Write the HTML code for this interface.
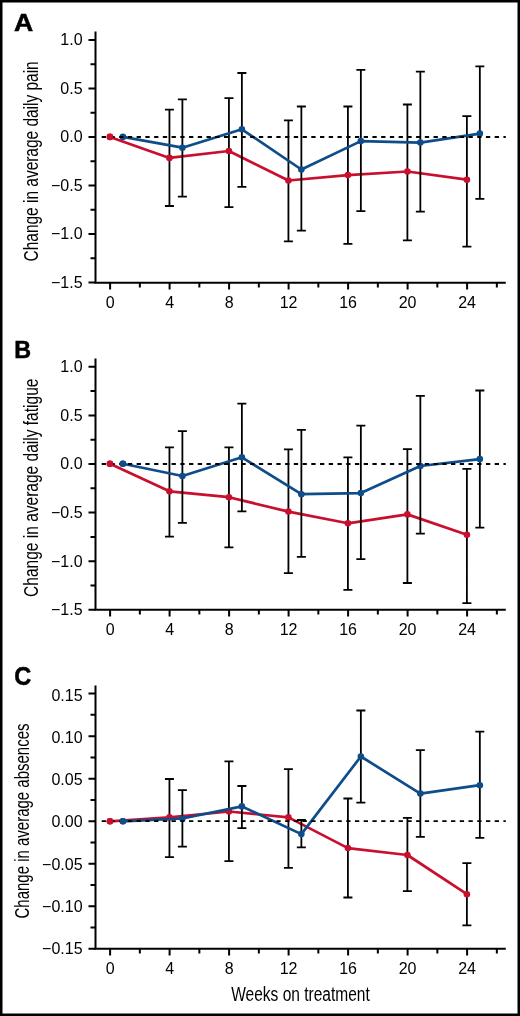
<!DOCTYPE html>
<html><head><meta charset="utf-8"><style>
html,body{margin:0;padding:0;background:#fff;}
svg{display:block;will-change:transform;}
text{font-family:"Liberation Sans",sans-serif;fill:#000;}
.lab{font-size:23.3px;font-weight:bold;stroke:#000;stroke-width:0.5px;}
.tk{font-size:16px;}
.yt{font-size:19.5px;}
.xt{font-size:19.5px;}
.ax{stroke:#000;stroke-width:2;fill:none;}
.eb{stroke:#000;stroke-width:1.8;fill:none;}
.dash{stroke:#000;stroke-width:1.8;stroke-dasharray:4.3 4.433;fill:none;}
</style></head><body>
<svg width="520" height="1016" viewBox="0 0 520 1016">
<rect x="1.25" y="1.25" width="517.5" height="1013.5" fill="#fff" stroke="#000" stroke-width="2.5"/>
<text transform="translate(13.9,31.1) scale(1.14,1)" class="lab">A</text>
<text class="yt" transform="translate(37.9,261.4) rotate(-90)" x="0" y="0" textLength="200.1" lengthAdjust="spacingAndGlyphs">Change in average daily pain</text>
<path d="M95.5 31.4V283.8M94.5 282.8H505.8" class="ax"/>
<text x="82.6" y="45.4" class="tk" text-anchor="end">1.0</text>
<text x="82.6" y="93.9" class="tk" text-anchor="end">0.5</text>
<text x="82.6" y="142.4" class="tk" text-anchor="end">0.0</text>
<text x="82.6" y="190.9" class="tk" text-anchor="end">−0.5</text>
<text x="82.6" y="239.4" class="tk" text-anchor="end">−1.0</text>
<text x="82.6" y="287.9" class="tk" text-anchor="end">−1.5</text>
<text x="110.1" y="308" class="tk" text-anchor="middle">0</text>
<text x="169.6" y="308" class="tk" text-anchor="middle">4</text>
<text x="229.1" y="308" class="tk" text-anchor="middle">8</text>
<text x="288.6" y="308" class="tk" text-anchor="middle">12</text>
<text x="348.1" y="308" class="tk" text-anchor="middle">16</text>
<text x="407.6" y="308" class="tk" text-anchor="middle">20</text>
<text x="467.1" y="308" class="tk" text-anchor="middle">24</text>
<path d="M88.5 40H95.5M88.5 88.5H95.5M88.5 137H95.5M88.5 185.5H95.5M88.5 234H95.5M88.5 282.5H95.5M90.5 64.25H95.5M90.5 112.75H95.5M90.5 161.25H95.5M90.5 209.75H95.5M90.5 258.25H95.5M110.1 282.8V289.5M139.85 282.8V287.5M169.6 282.8V289.5M199.35 282.8V287.5M229.1 282.8V289.5M258.85 282.8V287.5M288.6 282.8V289.5M318.35 282.8V287.5M348.1 282.8V289.5M377.85 282.8V287.5M407.6 282.8V289.5M437.35 282.8V287.5M467.1 282.8V289.5M496.85 282.8V287.5" class="ax"/>
<path d="M169.44 109.6V206M164.94 109.6H173.94M164.94 206H173.94M228.93 98.1V207.1M224.43 98.1H233.43M224.43 207.1H233.43M288.42 120.3V241.4M283.92 120.3H292.92M283.92 241.4H292.92M347.91 106.5V243.9M343.41 106.5H352.41M343.41 243.9H352.41M407.4 104.5V240.3M402.9 104.5H411.9M402.9 240.3H411.9M466.89 116.2V246.7M462.39 116.2H471.39M462.39 246.7H471.39" class="eb"/>
<polyline points="109.95,136.9 169.44,157.9 228.93,151 288.42,180.5 347.91,175.1 407.4,171.5 466.89,179.7" fill="none" stroke="#c8102e" stroke-width="2.7" stroke-linejoin="round"/>
<circle cx="109.95" cy="136.9" r="3.3" fill="#c8102e"/>
<circle cx="169.44" cy="157.9" r="3.3" fill="#c8102e"/>
<circle cx="228.93" cy="151" r="3.3" fill="#c8102e"/>
<circle cx="288.42" cy="180.5" r="3.3" fill="#c8102e"/>
<circle cx="347.91" cy="175.1" r="3.3" fill="#c8102e"/>
<circle cx="407.4" cy="171.5" r="3.3" fill="#c8102e"/>
<circle cx="466.89" cy="179.7" r="3.3" fill="#c8102e"/>
<path d="M182.39 99.3V196.6M177.89 99.3H186.89M177.89 196.6H186.89M241.88 73V186.9M237.38 73H246.38M237.38 186.9H246.38M301.37 106.5V230.6M296.87 106.5H305.87M296.87 230.6H305.87M360.86 69.9V211.2M356.36 69.9H365.36M356.36 211.2H365.36M420.35 71.7V211.7M415.85 71.7H424.85M415.85 211.7H424.85M479.84 66.3V198.9M475.34 66.3H484.34M475.34 198.9H484.34" class="eb"/>
<polyline points="122.9,136.9 182.39,147.7 241.88,129.3 301.37,169.5 360.86,141.1 420.35,142.6 479.84,133.6" fill="none" stroke="#0e4d8a" stroke-width="2.7" stroke-linejoin="round"/>
<circle cx="122.9" cy="136.9" r="3.3" fill="#0e4d8a"/>
<circle cx="182.39" cy="147.7" r="3.3" fill="#0e4d8a"/>
<circle cx="241.88" cy="129.3" r="3.3" fill="#0e4d8a"/>
<circle cx="301.37" cy="169.5" r="3.3" fill="#0e4d8a"/>
<circle cx="360.86" cy="141.1" r="3.3" fill="#0e4d8a"/>
<circle cx="420.35" cy="142.6" r="3.3" fill="#0e4d8a"/>
<circle cx="479.84" cy="133.6" r="3.3" fill="#0e4d8a"/>
<path d="M101.7 137H505.8" class="dash"/>
<circle cx="109.95" cy="136.9" r="3.3" fill="#c8102e"/>
<text x="14.3" y="357.9" class="lab">B</text>
<text class="yt" transform="translate(37.9,596.9) rotate(-90)" x="0" y="0" textLength="218.3" lengthAdjust="spacingAndGlyphs">Change in average daily fatigue</text>
<path d="M95.5 358.4V610.8M94.5 609.8H505.8" class="ax"/>
<text x="82.6" y="372.2" class="tk" text-anchor="end">1.0</text>
<text x="82.6" y="420.8" class="tk" text-anchor="end">0.5</text>
<text x="82.6" y="469.4" class="tk" text-anchor="end">0.0</text>
<text x="82.6" y="518" class="tk" text-anchor="end">−0.5</text>
<text x="82.6" y="566.6" class="tk" text-anchor="end">−1.0</text>
<text x="82.6" y="615.2" class="tk" text-anchor="end">−1.5</text>
<text x="110.1" y="635" class="tk" text-anchor="middle">0</text>
<text x="169.6" y="635" class="tk" text-anchor="middle">4</text>
<text x="229.1" y="635" class="tk" text-anchor="middle">8</text>
<text x="288.6" y="635" class="tk" text-anchor="middle">12</text>
<text x="348.1" y="635" class="tk" text-anchor="middle">16</text>
<text x="407.6" y="635" class="tk" text-anchor="middle">20</text>
<text x="467.1" y="635" class="tk" text-anchor="middle">24</text>
<path d="M88.5 366.8H95.5M88.5 415.4H95.5M88.5 464H95.5M88.5 512.6H95.5M88.5 561.2H95.5M88.5 609.8H95.5M90.5 391.1H95.5M90.5 439.7H95.5M90.5 488.3H95.5M90.5 536.9H95.5M90.5 585.5H95.5M110.1 609.8V616.5M139.85 609.8V614.5M169.6 609.8V616.5M199.35 609.8V614.5M229.1 609.8V616.5M258.85 609.8V614.5M288.6 609.8V616.5M318.35 609.8V614.5M348.1 609.8V616.5M377.85 609.8V614.5M407.6 609.8V616.5M437.35 609.8V614.5M467.1 609.8V616.5M496.85 609.8V614.5" class="ax"/>
<path d="M169.44 447.3V536.6M164.94 447.3H173.94M164.94 536.6H173.94M228.93 447.3V547.4M224.43 447.3H233.43M224.43 547.4H233.43M288.42 449.4V573.2M283.92 449.4H292.92M283.92 573.2H292.92M347.91 457.3V589.9M343.41 457.3H352.41M343.41 589.9H352.41M407.4 449.1V583M402.9 449.1H411.9M402.9 583H411.9M466.89 468.8V603.2M462.39 468.8H471.39M462.39 603.2H471.39" class="eb"/>
<polyline points="109.95,463.8 169.44,491.3 228.93,497.2 288.42,511.6 347.91,523.3 407.4,514.4 466.89,534.8" fill="none" stroke="#c8102e" stroke-width="2.7" stroke-linejoin="round"/>
<circle cx="109.95" cy="463.8" r="3.3" fill="#c8102e"/>
<circle cx="169.44" cy="491.3" r="3.3" fill="#c8102e"/>
<circle cx="228.93" cy="497.2" r="3.3" fill="#c8102e"/>
<circle cx="288.42" cy="511.6" r="3.3" fill="#c8102e"/>
<circle cx="347.91" cy="523.3" r="3.3" fill="#c8102e"/>
<circle cx="407.4" cy="514.4" r="3.3" fill="#c8102e"/>
<circle cx="466.89" cy="534.8" r="3.3" fill="#c8102e"/>
<path d="M182.39 431.2V522.8M177.89 431.2H186.89M177.89 522.8H186.89M241.88 403.6V511.3M237.38 403.6H246.38M237.38 511.3H246.38M301.37 429.9V556.8M296.87 429.9H305.87M296.87 556.8H305.87M360.86 425.6V559.2M356.36 425.6H365.36M356.36 559.2H365.36M420.35 395.9V533.6M415.85 395.9H424.85M415.85 533.6H424.85M479.84 390.5V527.7M475.34 390.5H484.34M475.34 527.7H484.34" class="eb"/>
<polyline points="122.9,463.8 182.39,476 241.88,457.3 301.37,494.2 360.86,493.1 420.35,466 479.84,459.1" fill="none" stroke="#0e4d8a" stroke-width="2.7" stroke-linejoin="round"/>
<circle cx="122.9" cy="463.8" r="3.3" fill="#0e4d8a"/>
<circle cx="182.39" cy="476" r="3.3" fill="#0e4d8a"/>
<circle cx="241.88" cy="457.3" r="3.3" fill="#0e4d8a"/>
<circle cx="301.37" cy="494.2" r="3.3" fill="#0e4d8a"/>
<circle cx="360.86" cy="493.1" r="3.3" fill="#0e4d8a"/>
<circle cx="420.35" cy="466" r="3.3" fill="#0e4d8a"/>
<circle cx="479.84" cy="459.1" r="3.3" fill="#0e4d8a"/>
<path d="M101.7 464H505.8" class="dash"/>
<circle cx="109.95" cy="463.8" r="3.3" fill="#c8102e"/>
<circle cx="122.9" cy="463.8" r="3.3" fill="#0e4d8a"/>
<text transform="translate(14.2,685) scale(0.92,1)" class="lab" style="font-size:25.6px">C</text>
<text class="yt" transform="translate(29,918.5) rotate(-90)" x="0" y="0" textLength="195" lengthAdjust="spacingAndGlyphs">Change in average absences</text>
<path d="M95.5 685.4V949.8M94.5 948.8H505.8" class="ax"/>
<text x="82.6" y="700.5" class="tk" text-anchor="end">0.15</text>
<text x="82.6" y="743.13" class="tk" text-anchor="end">0.10</text>
<text x="82.6" y="785.17" class="tk" text-anchor="end">0.05</text>
<text x="82.6" y="827.2" class="tk" text-anchor="end">0.00</text>
<text x="82.6" y="869.74" class="tk" text-anchor="end">−0.05</text>
<text x="82.6" y="911.87" class="tk" text-anchor="end">−0.10</text>
<text x="82.6" y="954.21" class="tk" text-anchor="end">−0.15</text>
<text x="110.1" y="974" class="tk" text-anchor="middle">0</text>
<text x="169.6" y="974" class="tk" text-anchor="middle">4</text>
<text x="229.1" y="974" class="tk" text-anchor="middle">8</text>
<text x="288.6" y="974" class="tk" text-anchor="middle">12</text>
<text x="348.1" y="974" class="tk" text-anchor="middle">16</text>
<text x="407.6" y="974" class="tk" text-anchor="middle">20</text>
<text x="467.1" y="974" class="tk" text-anchor="middle">24</text>
<path d="M88.5 693.6H95.5M88.5 736.13H95.5M88.5 778.67H95.5M88.5 821.2H95.5M88.5 863.74H95.5M88.5 906.27H95.5M88.5 948.81H95.5M90.5 714.86H95.5M90.5 757.4H95.5M90.5 799.93H95.5M90.5 842.47H95.5M90.5 885H95.5M90.5 927.54H95.5M110.1 948.8V955.5M139.85 948.8V953.5M169.6 948.8V955.5M199.35 948.8V953.5M229.1 948.8V955.5M258.85 948.8V953.5M288.6 948.8V955.5M318.35 948.8V953.5M348.1 948.8V955.5M377.85 948.8V953.5M407.6 948.8V955.5M437.35 948.8V953.5M467.1 948.8V955.5M496.85 948.8V953.5" class="ax"/>
<path d="M169.44 779V857.1M164.94 779H173.94M164.94 857.1H173.94M228.93 761.4V861.2M224.43 761.4H233.43M224.43 861.2H233.43M288.42 769.1V867.8M283.92 769.1H292.92M283.92 867.8H292.92M347.91 798.5V897.5M343.41 798.5H352.41M343.41 897.5H352.41M407.4 817.9V891.1M402.9 817.9H411.9M402.9 891.1H411.9M466.89 863.2V925.4M462.39 863.2H471.39M462.39 925.4H471.39" class="eb"/>
<polyline points="109.95,821.3 169.44,817.4 228.93,811.5 288.42,817.4 347.91,848.1 407.4,855 466.89,894.2" fill="none" stroke="#c8102e" stroke-width="2.7" stroke-linejoin="round"/>
<circle cx="109.95" cy="821.3" r="3.3" fill="#c8102e"/>
<circle cx="169.44" cy="817.4" r="3.3" fill="#c8102e"/>
<circle cx="228.93" cy="811.5" r="3.3" fill="#c8102e"/>
<circle cx="288.42" cy="817.4" r="3.3" fill="#c8102e"/>
<circle cx="347.91" cy="848.1" r="3.3" fill="#c8102e"/>
<circle cx="407.4" cy="855" r="3.3" fill="#c8102e"/>
<circle cx="466.89" cy="894.2" r="3.3" fill="#c8102e"/>
<path d="M182.39 790.1V846.6M177.89 790.1H186.89M177.89 846.6H186.89M241.88 786V828.2M237.38 786H246.38M237.38 828.2H246.38M301.37 820V847.4M296.87 820H305.87M296.87 847.4H305.87M360.86 710.5V802.6M356.36 710.5H365.36M356.36 802.6H365.36M420.35 750.1V836.9M415.85 750.1H424.85M415.85 836.9H424.85M479.84 731.7V837.9M475.34 731.7H484.34M475.34 837.9H484.34" class="eb"/>
<polyline points="122.9,821.3 182.39,818.5 241.88,806.4 301.37,834.1 360.86,756.5 420.35,793.6 479.84,785.2" fill="none" stroke="#0e4d8a" stroke-width="2.7" stroke-linejoin="round"/>
<circle cx="122.9" cy="821.3" r="3.3" fill="#0e4d8a"/>
<circle cx="182.39" cy="818.5" r="3.3" fill="#0e4d8a"/>
<circle cx="241.88" cy="806.4" r="3.3" fill="#0e4d8a"/>
<circle cx="301.37" cy="834.1" r="3.3" fill="#0e4d8a"/>
<circle cx="360.86" cy="756.5" r="3.3" fill="#0e4d8a"/>
<circle cx="420.35" cy="793.6" r="3.3" fill="#0e4d8a"/>
<circle cx="479.84" cy="785.2" r="3.3" fill="#0e4d8a"/>
<path d="M101.7 821.2H505.8" class="dash"/>
<circle cx="109.95" cy="821.3" r="3.3" fill="#c8102e"/>
<circle cx="122.9" cy="821.3" r="3.3" fill="#0e4d8a"/>
<text x="231.2" y="1001" class="xt" textLength="138.6" lengthAdjust="spacingAndGlyphs">Weeks on treatment</text>
</svg>
</body></html>
